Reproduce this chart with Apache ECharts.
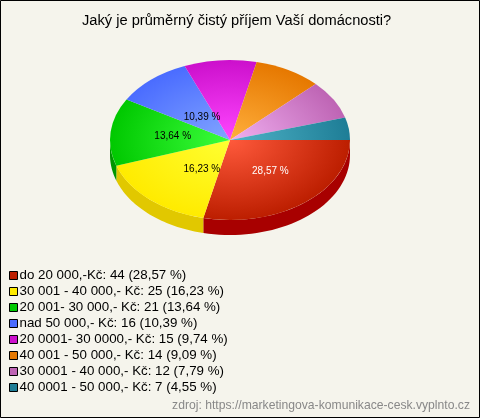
<!DOCTYPE html>
<html><head><meta charset="utf-8">
<style>html,body{margin:0;padding:0;background:#f5f4ec}#c{width:480px;height:418px}</style>
<script src="https://cdn.jsdelivr.net/npm/echarts@6/dist/echarts.min.js"></script>
</head><body><div id="c"></div>
<script>
const titleText = 'Jaký je průměrný čistý příjem Vaší domácnosti?';
const sourceText = 'zdroj: https://marketingova-komunikace-cesk.vyplnto.cz';
const categories = ['do 20 000,-Kč','30 001 - 40 000,- Kč','20 001- 30 000,- Kč','nad 50 000,- Kč','20 0001- 30 0000,- Kč','40 001 - 50 000,- Kč','30 0001 - 40 000,- Kč','40 0001 - 50 000,- Kč'];
const counts = [44,25,21,16,15,14,12,7];
const percents = ['28,57','16,23','13,64','10,39','9,74','9,09','7,79','4,55'];
const baseColors = ['#bc1e00','#ffeb00','#00c800','#4a6cff','#cc10cc','#e67800','#be64b4','#1e7d96'];
const lightColors = ['#ff5a3c','#ffff32','#3cff3c','#82a5ff','#ff46ff','#ffaf3c','#f0aff0','#50b4c8'];
const wallColors = ['#a80000','#e1c800','#009600','#3050c0','#a000a0','#b85c00','#964a90','#145f74'];
const labelColors = ['#fff','#000','#000','#000',null,null,null,null];
const labelPlace = [[.54,.5],[.35,.49],[.48,.5],[.356,.38],null,null,null,null];

const cx=230, cy=140, rx=120, ry=80, depth=15;
const total = counts.reduce((a,b)=>a+b,0);
const names = categories.map((c,i)=>`${c}: ${counts[i]} (${percents[i]} %)`);
const starts = counts.map((_,i)=>counts.slice(0,i).reduce((a,b)=>a+b,0)/total*2*Math.PI);
const ends = counts.map((_,i)=>counts.slice(0,i+1).reduce((a,b)=>a+b,0)/total*2*Math.PI);

function render(i){
  return function(){
    const a0=starts[i], a1=ends[i], kids=[];
    const w0=Math.min(a0,Math.PI), w1=Math.min(a1,Math.PI);
    if(w1>w0){
      const top=[],bot=[],n=40;
      for(let k=0;k<=n;k++){
        const a=w0+(w1-w0)*k/n, x=cx+rx*Math.cos(a), y=cy+ry*Math.sin(a);
        top.push([x,y]); bot.unshift([x,y+depth]);
      }
      kids.push({type:'polygon',shape:{points:top.concat(bot)},style:{fill:wallColors[i]}});
    }
    kids.push({type:'sector',x:cx,y:cy,scaleY:ry/rx,
      shape:{cx:0,cy:0,r0:0,r:rx,startAngle:a0,endAngle:a1,clockwise:true},
      style:{fill:{type:'radial',x:0,y:0,r:rx,global:true,
        colorStops:[{offset:0,color:lightColors[i]},{offset:1,color:baseColors[i]}]}}});
    return {type:'group',children:kids};
  };
}
function renderLabel(params){
  const i=params.dataIndex;
  if(!labelPlace[i]) return null;
  const m=(starts[i]+ends[i])/2;
  return {type:'text',style:{
    x:cx+rx*labelPlace[i][0]*Math.cos(m), y:cy+ry*labelPlace[i][1]*Math.sin(m),
    text:percents[i]+' %',fill:labelColors[i],font:'10px "Liberation Sans"',align:'center',verticalAlign:'middle'}};
}

const chart = echarts.init(document.getElementById('c'),null,{renderer:'canvas'});
chart.setOption({
  animation:false,
  backgroundColor:'#f5f4ec',
  title:[
    {text:titleText,left:82,top:13,padding:0,textStyle:{fontFamily:'Liberation Sans',fontSize:14.67,fontWeight:'normal',color:'#000'}},
    {text:sourceText,right:10,top:400,padding:0,textStyle:{fontFamily:'Liberation Sans',fontSize:12.17,fontWeight:'normal',color:'#888'}}
  ],
  legend:{
    orient:'vertical',left:9,top:269,padding:0,itemGap:3,itemWidth:8,itemHeight:8,
    selectedMode:false,icon:'rect',
    textStyle:{fontFamily:'Liberation Sans',fontSize:13.33,color:'#000',padding:[0,0,0,-3]},
    data:names.map((n,i)=>({name:n,icon:'rect',itemStyle:{color:baseColors[i],borderColor:'#000',borderWidth:1}}))
  },
  series:names.map((n,i)=>({
    type:'custom',name:n,coordinateSystem:'none',silent:true,z:2,
    itemStyle:{color:baseColors[i]},
    data:[counts[i]],renderItem:render(i)
  })).concat([{
    type:'custom',name:'labels',coordinateSystem:'none',silent:true,z:5,
    data:counts,renderItem:renderLabel
  }]),
  graphic:[{type:'rect',silent:true,z:-1,shape:{x:0.5,y:0.5,width:479,height:417},style:{fill:'none',stroke:'#000',lineWidth:1}}]
});
</script></body></html>
